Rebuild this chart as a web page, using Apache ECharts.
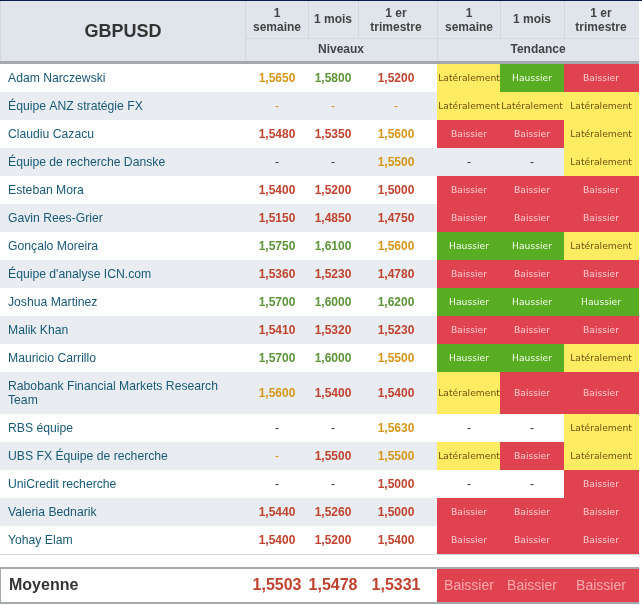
<!DOCTYPE html>
<html>
<head>
<meta charset="utf-8">
<style>
html,body{margin:0;padding:0;background:#fff;}
#main{width:642px;height:605px;}
</style>
<script src="https://cdn.jsdelivr.net/npm/echarts@6/dist/echarts.min.js"></script>
</head>
<body>
<div id="main"></div>
<script>
//数据
var title='GBPUSD';
var periods=['1\nsemaine','1 mois','1 er\ntrimestre'];
var groups=['Niveaux','Tendance'];
var names=['Adam Narczewski','Équipe ANZ stratégie FX','Claudiu Cazacu','Équipe de recherche Danske','Esteban Mora','Gavin Rees-Grier','Gonçalo Moreira',"Équipe d'analyse ICN.com",'Joshua Martinez','Malik Khan','Mauricio Carrillo','Rabobank Financial Markets Research\nTeam','RBS équipe','UBS FX Équipe de recherche','UniCredit recherche','Valeria Bednarik','Yohay Elam'];
var week=['1,5650','-','1,5480','-','1,5400','1,5150','1,5750','1,5360','1,5700','1,5410','1,5700','1,5600','-','-','-','1,5440','1,5400'];
var month=['1,5800','-','1,5350','-','1,5200','1,4850','1,6100','1,5230','1,6000','1,5320','1,6000','1,5400','-','1,5500','-','1,5260','1,5200'];
var quarter=['1,5200','-','1,5600','1,5500','1,5000','1,4750','1,5600','1,4780','1,6200','1,5230','1,5500','1,5400','1,5630','1,5500','1,5000','1,5000','1,5400'];
var trendWeek=['Latéralement','Latéralement','Baissier','-','Baissier','Baissier','Haussier','Baissier','Haussier','Baissier','Haussier','Latéralement','-','Latéralement','-','Baissier','Baissier'];
var trendMonth=['Haussier','Latéralement','Baissier','-','Baissier','Baissier','Haussier','Baissier','Haussier','Baissier','Haussier','Baissier','-','Baissier','-','Baissier','Baissier'];
var trendQuarter=['Baissier','Latéralement','Latéralement','Latéralement','Baissier','Baissier','Latéralement','Baissier','Haussier','Baissier','Latéralement','Baissier','Latéralement','Latéralement','Baissier','Baissier','Baissier'];
var avgLabel='Moyenne';
var avgLevels=['1,5503','1,5478','1,5331'];
var avgTrends=['Baissier','Baissier','Baissier'];

//布局
var colEdges=[0,245,308,358,437,500,564,639];
var colText=[277,333,396,469,532,601];
var rowH=28,tallH=42,tallRow=11,rowTop=64;

var levelColor={'Baissier':'#c0432f','Latéralement':'#d6961a','Haussier':'#5c9238','-':'#333333'};
var cellColor={'Baissier':'#e04250','Latéralement':'#ffec62','Haussier':'#58ad23'};
var cellText={'Baissier':'#fcccd0','Latéralement':'#6e5210','Haussier':'#f6faef','-':'#333333'};
var headBg='#e0e5ec',headLine='#d2d7e0',stripe='#e9edf1',boxLine='#a6a9ac';

var sans='"Liberation Sans",Arial,sans-serif';
var cells=[];
function rect(x0,y0,x1,y1,fill){
    cells.push({x0:x0,y0:y0,x1:x1,y1:y1,fill:fill});
}
function text(x,y,str,font,color,align){
    cells.push({x0:x,y0:y,x1:x,y1:y,str:str,font:font,color:color,align:align||'center'});
}

//表头
rect(0,0,642,1,'#0b1b4d');
rect(0,1,639,61,headBg);
rect(0,1,1,61,'#d2d7e0');
rect(0,61,639,64,boxLine);
rect(245,38,639,39,headLine);
[245,308,358,437,500,564].forEach(function(x){
    rect(x,1,x+1,38,headLine);
});
rect(245,38,246,61,headLine);
rect(437,38,438,61,headLine);
text(123,32,title,'bold 18px '+sans,'#333333');
var headFont='bold 12px '+sans;
colText.forEach(function(x,i){
    text(x,i%3==1?20:21,periods[i%3],headFont,'#444444');
});
text(341,50,groups[0],headFont,'#444444');
text(538,50,groups[1],headFont,'#444444');

//表格行
var y=rowTop;
names.forEach(function(name,i){
    var h=i==tallRow?tallH:rowH;
    if(i%2==1){
        rect(0,y,437,y+h,stripe);
    }
    var mid=y+h/2+1;
    text(8,mid,name,'12.2px '+sans,'#195a78','left');
    var levels=[week[i],month[i],quarter[i]];
    var trends=[trendWeek[i],trendMonth[i],trendQuarter[i]];
    levels.forEach(function(v,k){
        text(colText[k],mid,v,(v=='-'?'':'bold ')+'12px '+sans,levelColor[trends[k]]);
    });
    trends.forEach(function(t,k){
        if(t!='-'){
            rect(colEdges[k+4],y,colEdges[k+5],y+h,cellColor[t]);
        }else if(i%2==1){
            rect(colEdges[k+4],y,colEdges[k+5],y+h,stripe);
        }
        text(colText[k+3],mid,t,t=='-'?'12px '+sans:'9.2px "DejaVu Sans",sans-serif',cellText[t]);
    });
    y+=h;
});
rect(0,y,639,y+1,'#d6d6d6');

//平均值
rect(0,567,639,569,boxLine);
rect(0,602,639,604,boxLine);
rect(0,567,1,604,boxLine);
rect(437,569,639,602,cellColor['Baissier']);
text(9,586,avgLabel,'bold 16px '+sans,'#333333','left');
avgLevels.forEach(function(v,k){
    text(colText[k],586,v,'bold 16px '+sans,levelColor['Baissier']);
});
avgTrends.forEach(function(t,k){
    text(colText[k+3],586,t,'14px '+sans,'#f6a8ae');
});

var chart=echarts.init(document.getElementById('main'));
chart.setOption({
    animation:false,
    grid:{left:0,right:0,top:0,bottom:0},
    xAxis:{type:'value',min:0,max:642,show:false},
    yAxis:{type:'value',min:0,max:605,inverse:true,show:false},
    series:[{
        type:'custom',
        silent:true,
        clip:false,
        data:cells.map(function(c){return [c.x0,c.y0,c.x1,c.y1];}),
        encode:{x:[0,2],y:[1,3]},
        renderItem:function(params,api){
            var c=cells[params.dataIndex];
            var p0=api.coord([api.value(0),api.value(1)]);
            var p1=api.coord([api.value(2),api.value(3)]);
            if(c.str!==undefined){
                return {
                    type:'text',
                    style:{x:p0[0],y:p0[1],text:c.str,font:c.font,fill:c.color,align:c.align,verticalAlign:'middle',lineHeight:14}
                };
            }
            return {
                type:'rect',
                shape:{x:p0[0],y:p0[1],width:p1[0]-p0[0],height:p1[1]-p0[1]},
                style:{fill:c.fill}
            };
        }
    }]
});
</script>
</body>
</html>
